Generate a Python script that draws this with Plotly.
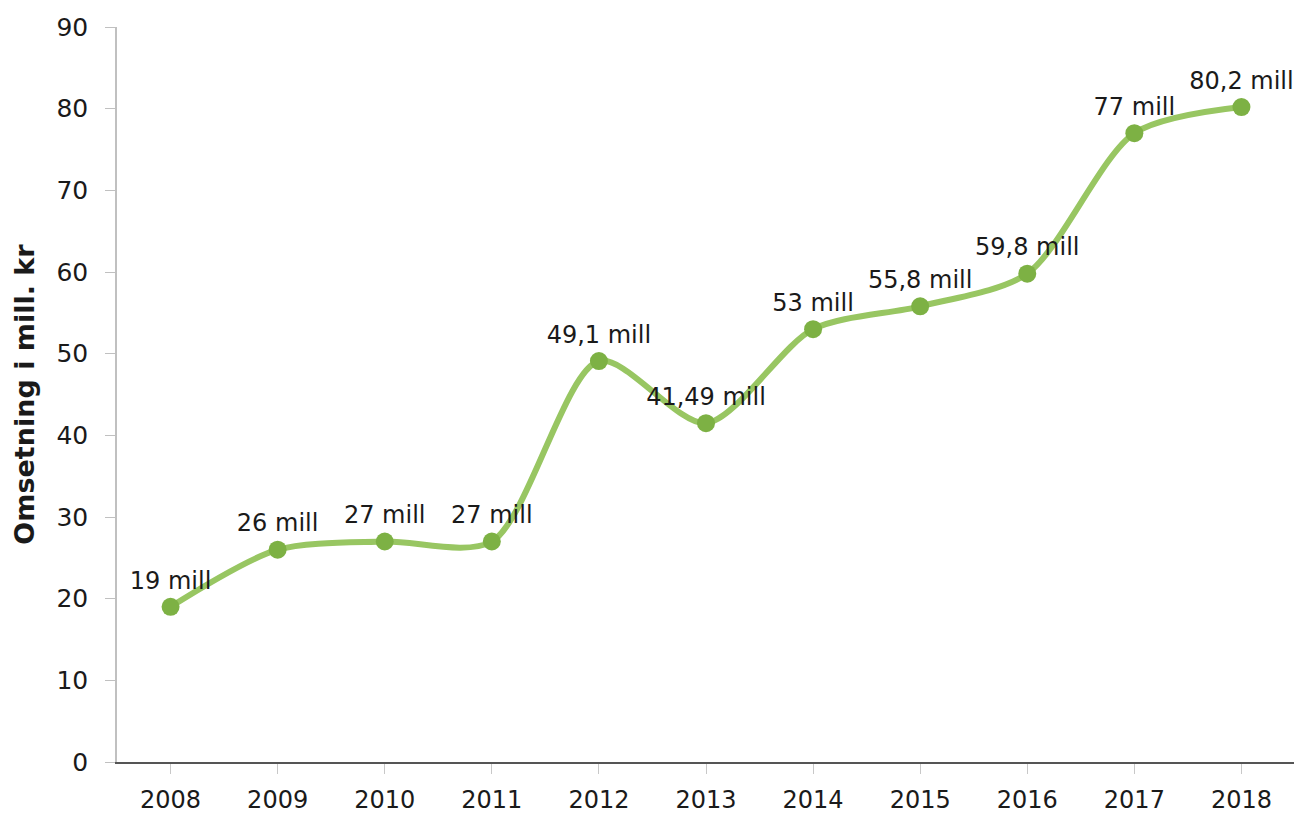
import plotly.graph_objects as go

years = ["2008", "2009", "2010", "2011", "2012", "2013", "2014", "2015", "2016", "2017", "2018"]
values = [19, 26, 27, 27, 49.1, 41.49, 53, 55.8, 59.8, 77, 80.2]
labels = ["19 mill", "26 mill", "27 mill", "27 mill", "49,1 mill", "41,49 mill",
          "53 mill", "55,8 mill", "59,8 mill", "77 mill", "80,2 mill"]
y_ticks = [0, 10, 20, 30, 40, 50, 60, 70, 80, 90]

fig = go.Figure()
fig.add_trace(go.Scatter(
    x=years, y=values,
    mode="lines+markers+text",
    line=dict(color="#98C662", width=6, shape="spline", smoothing=0.8),
    marker=dict(color="#7DB144", size=18),
    text=labels,
    textposition="top center",
    textfont=dict(family="DejaVu Sans", size=24, color="#1a1a1a"),
    cliponaxis=False,
    hoverinfo="skip",
))

fig.update_layout(
    width=1294, height=808,
    margin=dict(l=109, r=7, t=19, b=54, autoexpand=False),
    paper_bgcolor="white", plot_bgcolor="white",
    showlegend=False,
    font=dict(family="DejaVu Sans", size=24, color="#1a1a1a"),
)
fig.update_xaxes(
    type="category", range=[-0.5, 10.5], automargin=False,
    showline=True, linecolor="#555555", linewidth=1.5,
    ticks="outside", ticklen=10, tickcolor="#c8c8c8",
    showgrid=False, tickfont=dict(size=24), ticklabelstandoff=5,
)
fig.update_yaxes(
    range=[0, 90], tickvals=y_ticks, automargin=False,
    showline=True, linecolor="#c0c0c0", linewidth=1.5,
    ticks="outside", ticklen=10, tickcolor="#c0c0c0",
    showgrid=False, zeroline=False, tickfont=dict(size=25), ticklabelstandoff=12,
    title=dict(text="<b>Omsetning i mill. kr</b>", font=dict(size=27, color="#1a1a1a"), standoff=14),
)

fig.write_html("out.html")
